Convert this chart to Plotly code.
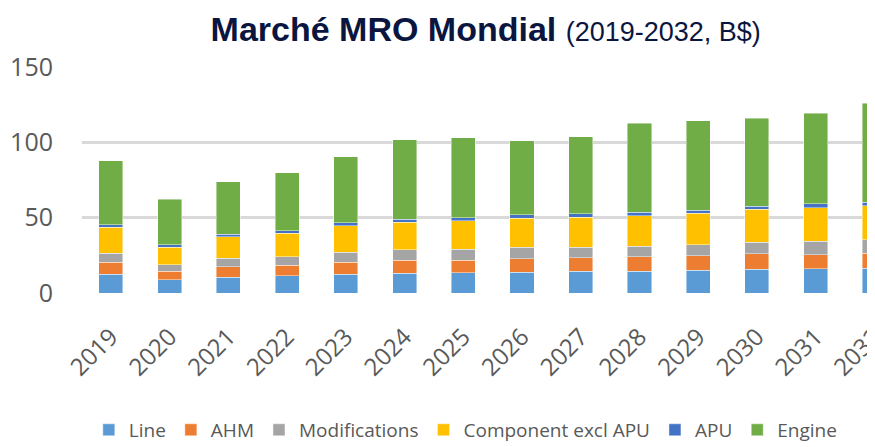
import plotly.graph_objects as go

years = ["2019", "2020", "2021", "2022", "2023", "2024", "2025", "2026",
         "2027", "2028", "2029", "2030", "2031", "2032"]

line_vals = [12.6, 8.8, 10.6, 11.5, 12.4, 13.1, 13.5, 13.9, 14.4, 14.6, 15.1, 15.7, 16.1, 16.4]
ahm_vals = [7.8, 5.6, 6.9, 6.9, 8.0, 8.6, 8.2, 8.9, 9.0, 9.3, 9.7, 10.4, 9.3, 9.9]
mod_vals = [5.9, 4.2, 5.5, 5.7, 6.6, 7.0, 7.3, 7.7, 7.1, 7.1, 7.1, 7.7, 8.9, 8.9]
comp_vals = [17.3, 11.7, 14.2, 15.5, 17.5, 18.2, 18.8, 19.1, 19.9, 20.3, 21.0, 21.8, 22.3, 22.7]
apu_vals = [1.7, 1.6, 1.8, 1.7, 2.0, 2.2, 2.2, 2.2, 2.2, 2.3, 2.0, 2.1, 2.7, 2.5]
engine_vals = [42.5, 30.3, 34.9, 38.5, 44.0, 52.7, 53.1, 49.3, 51.1, 59.2, 59.3, 58.2, 60.0, 65.5]

series_names = ["Line", "AHM", "Modifications", "Component excl APU", "APU", "Engine"]
series_values = [line_vals, ahm_vals, mod_vals, comp_vals, apu_vals, engine_vals]
series_colors = ["#5B9BD5", "#ED7D31", "#A5A5A5", "#FFC000", "#4472C4", "#70AD47"]

y_ticks = [0, 50, 100, 150]

fig = go.Figure()
for name, vals, col in zip(series_names, series_values, series_colors):
    fig.add_trace(go.Bar(
        x=list(range(len(years))), y=vals, name=name,
        marker=dict(color=col, line=dict(color="rgba(255,255,255,0.55)", width=0.8)),
    ))

fig.update_layout(
    width=867, height=439,
    barmode="stack", bargap=0.59,
    plot_bgcolor="white", paper_bgcolor="white",
    margin=dict(l=74, r=0, t=59, b=154, autoexpand=False),
    font=dict(family="Open Sans, Liberation Sans, sans-serif", color="#595959"),
    title=dict(
        text="<b>Marché MRO Mondial</b> <span style='font-size:27px;font-weight:normal'>(2019-2032, B$)</span>",
        font=dict(family="Liberation Sans, Arial, sans-serif", size=34, color="#0B1640"),
        x=0.551, xanchor="center", xref="container",
        y=0.952, yanchor="middle", yref="container",
    ),
    xaxis=dict(
        tickmode="array", tickvals=list(range(len(years))), ticktext=years,
        range=[-0.492, 13.01], tickangle=-45, showgrid=False, zeroline=False,
        showline=False, ticks="", tickfont=dict(size=24, color="#595959"),
        ticklabelstandoff=24, automargin=False, ticklabeloverflow="allow",
    ),
    yaxis=dict(
        range=[0, 150], tickmode="array", tickvals=y_ticks,
        showgrid=True, gridcolor="#D9D9D9", gridwidth=3, zeroline=False,
        showline=False, ticks="", tickfont=dict(size=25, color="#595959"),
        ticklabelstandoff=28, automargin=False,
    ),
    legend=dict(
        orientation="h", traceorder="normal",
        x=0.484, xanchor="center", y=-0.606, yanchor="middle",
        font=dict(size=19, color="#595959"),
        bgcolor="rgba(0,0,0,0)",
    ),
    showlegend=True,
)

fig.write_html("out.html")
